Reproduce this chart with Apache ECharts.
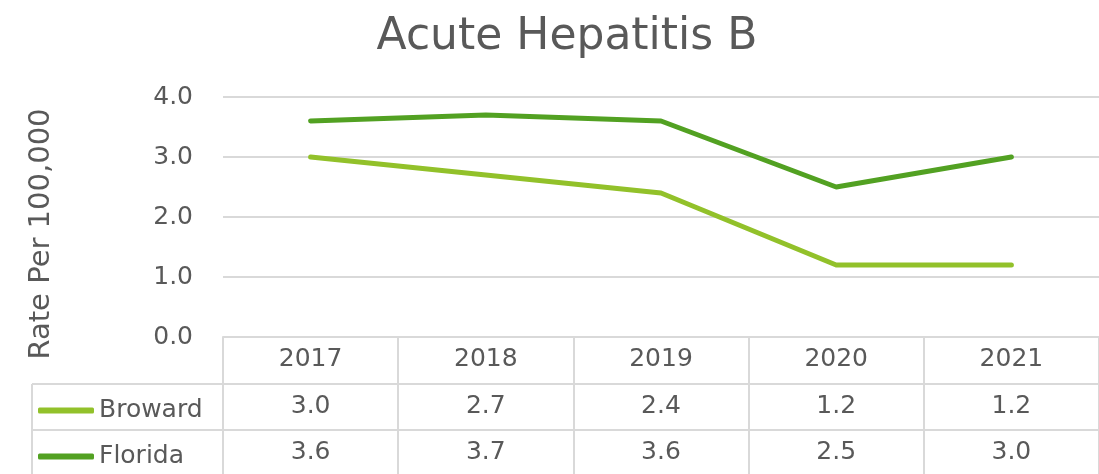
<!DOCTYPE html>
<html>
<head>
<meta charset="utf-8">
<script src="https://cdn.jsdelivr.net/npm/echarts@6/dist/echarts.min.js"></script>
<style>
  html, body { margin: 0; padding: 0; background: #fff; }
  #chart { width: 1099px; height: 474px; }
</style>
</head>
<body>
<div id="chart"></div>
<script>
// data
const years = ['2017', '2018', '2019', '2020', '2021'];
const broward = [3.0, 2.7, 2.4, 1.2, 1.2];
const florida = [3.6, 3.7, 3.6, 2.5, 3.0];
const yTicks = [0, 1, 2, 3, 4];

const txt = '#595959';
const line = '#d9d9d9';
const font = 'DejaVu Sans';

const chart = echarts.init(document.getElementById('chart'), null, { renderer: 'canvas' });

// table value rows are just category axes placed under the plot
function rowAxis(values, offset) {
  return {
    type: 'category',
    gridIndex: 0,
    position: 'bottom',
    offset: offset,
    data: values.map(v => v.toFixed(1)),
    axisLine: { show: false },
    axisTick: { show: false },
    axisLabel: { color: txt, fontSize: 25, fontFamily: font, margin: 10 }
  };
}

// one legend per table row (the key sits in the row header)
function rowLegend(name, top) {
  return {
    left: 38,
    top: top,
    padding: 0,
    itemWidth: 56,
    itemHeight: 6,
    icon: 'roundRect',
    textStyle: { color: txt, fontSize: 25, fontFamily: font },
    data: [name]
  };
}

const option = {
  animation: false,
  title: {
    text: 'Acute Hepatitis B',
    left: 562,
    top: 11,
    textAlign: 'center',
    textStyle: { color: txt, fontSize: 44, fontWeight: 'normal', fontFamily: font }
  },
  legend: [rowLegend('Broward', 398), rowLegend('Florida', 444)],
  grid: [
    { left: 223, right: 0, top: 97, height: 240 },
    { left: 223, right: 0, top: 337, height: 140 }
  ],
  xAxis: [
    {
      type: 'category',
      gridIndex: 0,
      data: years,
      axisLine: { show: true, lineStyle: { color: line, width: 2 } },
      axisTick: { show: false },
      axisLabel: { color: txt, fontSize: 25, fontFamily: font, margin: 10 }
    },
    rowAxis(broward, 47),
    rowAxis(florida, 93),
    {
      type: 'category',
      gridIndex: 1,
      data: years,
      axisLine: { show: false },
      axisTick: { show: false },
      axisLabel: { show: false },
      splitLine: { show: true, lineStyle: { color: line, width: 2 } }
    }
  ],
  yAxis: [
    {
      type: 'value',
      gridIndex: 0,
      min: yTicks[0],
      max: yTicks[yTicks.length - 1],
      interval: 1,
      name: 'Rate Per 100,000',
      nameLocation: 'middle',
      nameGap: 167,
      nameTextStyle: { color: txt, fontSize: 29, fontFamily: font, padding: [0, 34, 0, 0] },
      axisLine: { show: false },
      axisTick: { show: false },
      axisLabel: {
        color: txt, fontSize: 25, fontFamily: font, margin: 30,
        formatter: v => v.toFixed(1)
      },
      splitLine: { lineStyle: { color: line, width: 2 } }
    },
    {
      type: 'value',
      gridIndex: 1,
      show: false
    }
  ],
  graphic: [
    { type: 'line', shape: { x1: 32, y1: 384, x2: 1099, y2: 384 }, style: { stroke: line, lineWidth: 2 } },
    { type: 'line', shape: { x1: 32, y1: 430, x2: 1099, y2: 430 }, style: { stroke: line, lineWidth: 2 } },
    { type: 'line', shape: { x1: 32, y1: 384, x2: 32, y2: 474 }, style: { stroke: line, lineWidth: 2 } }
  ],
  series: [
    {
      name: 'Broward',
      type: 'line',
      xAxisIndex: 0,
      yAxisIndex: 0,
      data: broward,
      color: '#92c12a',
      showSymbol: false,
      lineStyle: { width: 5, cap: 'round', join: 'round' }
    },
    {
      name: 'Florida',
      type: 'line',
      xAxisIndex: 0,
      yAxisIndex: 0,
      data: florida,
      color: '#52a122',
      showSymbol: false,
      lineStyle: { width: 5, cap: 'round', join: 'round' }
    }
  ]
};

chart.setOption(option);
</script>
</body>
</html>
